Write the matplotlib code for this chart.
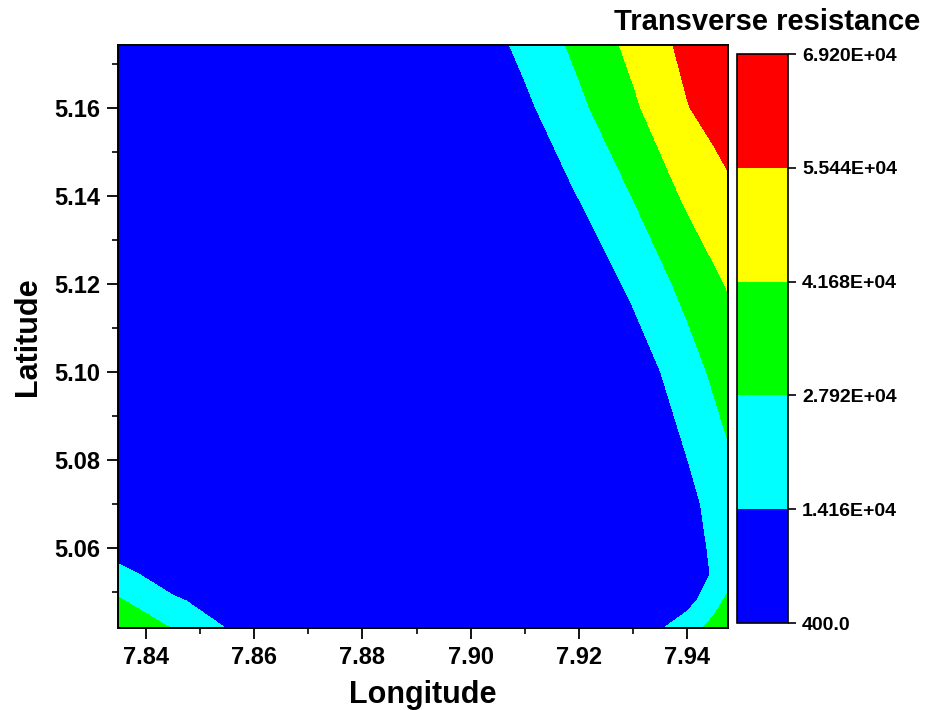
import matplotlib.pyplot as plt
from matplotlib.ticker import MultipleLocator, FormatStrFormatter

plt.rcParams['font.family'] = ['Liberation Sans', 'DejaVu Sans']
plt.rcParams['font.weight'] = 'bold'

# grid nodes (longitude columns, latitude rows from bottom to top)
lon = [7.8348, 7.845, 7.855, 7.87, 7.90, 7.91, 7.92, 7.93, 7.94, 7.945, 7.9476]
lat = [5.0418, 5.048, 5.054, 5.06, 5.07, 5.08, 5.10, 5.12, 5.14, 5.16, 5.1743]

# transverse resistance at the nodes, one list per latitude row
r_50418 = [40000, 27170, 13660, 5000, 3000, 2500, 2500, 3500, 22120, 31900, 36970]
r_50480 = [29500, 15930, 8340, 4500, 2800, 2400, 2600, 5000, 9000, 23190, 30545]
r_50540 = [18500, 7140, 5000, 4000, 2600, 2300, 2600, 5000, 9300, 15000, 22000]
r_50600 = [7490, 6000, 4500, 3500, 2400, 2200, 2500, 5000, 9000, 16000, 20000]
r_50700 = [5000, 4500, 4000, 3000, 2200, 2100, 2500, 5000, 10000, 18360, 22500]
r_50800 = [4000, 3800, 3500, 2800, 2100, 2000, 2500, 5000, 13900, 21960, 26160]
r_51000 = [3000, 3000, 2800, 2500, 400, 2000, 3000, 5850, 22020, 30100, 34290]
r_51200 = [2500, 2500, 2400, 2300, 2000, 2500, 3000, 17080, 31990, 39420, 42500]
r_51400 = [2200, 2200, 2200, 2200, 2500, 5000, 14490, 28280, 43830, 49210, 52000]
r_51600 = [1800, 1800, 2000, 2400, 3500, 11380, 25060, 39420, 54800, 60180, 64310]
r_51743 = [1800, 1800, 2000, 2500, 5000, 17780, 31250, 45200, 58980, 65810, 69200]

resistance = [r_50418, r_50480, r_50540, r_50600, r_50700, r_50800,
              r_51000, r_51200, r_51400, r_51600, r_51743]

levels = [400, 14160, 27920, 41680, 55440, 69200]
level_labels = ['400.0', '1.416E+04', '2.792E+04', '4.168E+04', '5.544E+04', '6.920E+04']
colors = ['#0000ff', '#00ffff', '#00ff00', '#ffff00', '#ff0000']

fig = plt.figure(figsize=(9.36, 7.10), dpi=100)
ax = fig.add_axes([0.1261, 0.1155, 0.6517, 0.8211])
cs = ax.contourf(lon, lat, resistance, levels=levels, colors=colors, antialiased=False)

ax.set_xlim(7.8348, 7.9476)
ax.set_ylim(5.0418, 5.1743)
ax.xaxis.set_major_locator(MultipleLocator(0.02))
ax.xaxis.set_minor_locator(MultipleLocator(0.01))
ax.yaxis.set_major_locator(MultipleLocator(0.02))
ax.yaxis.set_minor_locator(MultipleLocator(0.01))
ax.xaxis.set_major_formatter(FormatStrFormatter('%.2f'))
ax.yaxis.set_major_formatter(FormatStrFormatter('%.2f'))
ax.tick_params(which='major', direction='out', length=8, width=1.3, labelsize=17, pad=5)
ax.tick_params(which='minor', direction='out', length=4, width=1.2)
for s in ax.spines.values():
    s.set_linewidth(1.4)

ax.set_xlabel('Longitude', fontsize=22, fontweight='bold', labelpad=8)
ax.set_ylabel('Latitude', fontsize=22, fontweight='bold', labelpad=8)

# colorbar
cax = fig.add_axes([0.7874, 0.1225, 0.0545, 0.8014])
cb = fig.colorbar(cs, cax=cax, ticks=levels)
cb.ax.set_yticklabels(level_labels)
cb.ax.tick_params(direction='out', length=6, width=1.2, labelsize=14, pad=4)
cb.outline.set_linewidth(1.2)

fig.text(0.983, 0.969, 'Transverse resistance', ha='right', va='center',
         fontsize=21, fontweight='bold')

plt.savefig('out.png', dpi=100)
